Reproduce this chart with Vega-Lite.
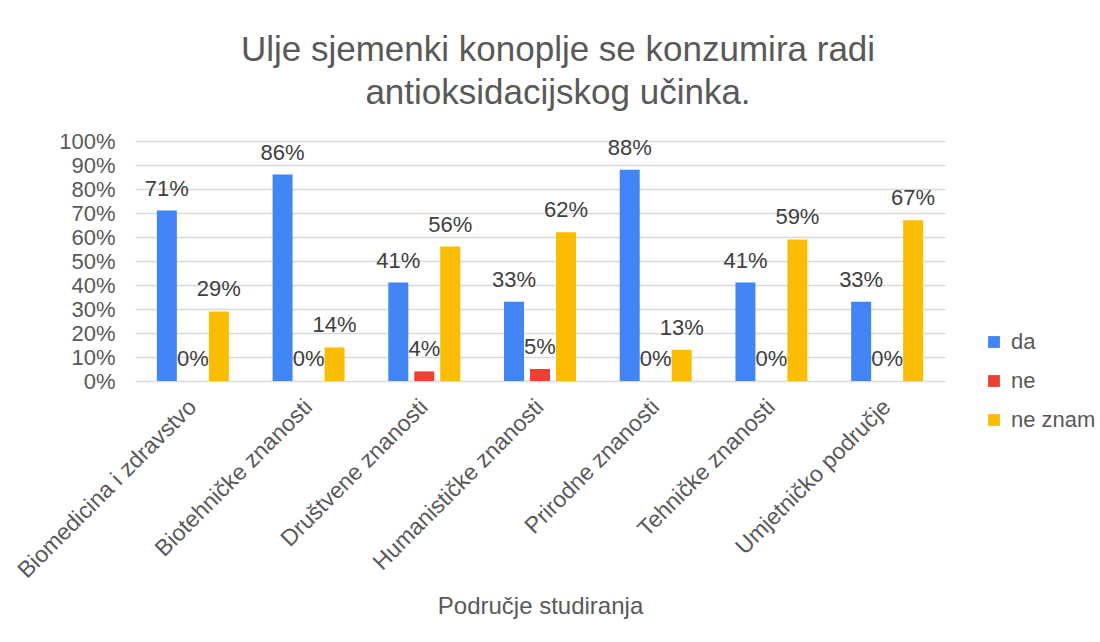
{
  "$schema": "https://vega.github.io/schema/vega-lite/v6.json",
  "width": 810,
  "height": 240,
  "autosize": "none",
  "padding": {"left": 135, "top": 141, "right": 155, "bottom": 261},
  "background": "white",
  "title": {
    "text": ["Ulje sjemenki konoplje se konzumira radi", "antioksidacijskog učinka."],
    "fontSize": 35,
    "fontWeight": "normal",
    "color": "#595959",
    "anchor": "middle",
    "frame": "group",
    "lineHeight": 43,
    "dx": 18,
    "dy": 36,
    "offset": 20,
    "baseline": "bottom"
  },
  "data": {
    "values": [
      {"podrucje": "Biomedicina i zdravstvo", "odgovor": "da", "udio": 0.71},
      {"podrucje": "Biomedicina i zdravstvo", "odgovor": "ne", "udio": 0.0},
      {"podrucje": "Biomedicina i zdravstvo", "odgovor": "ne znam", "udio": 0.29},
      {"podrucje": "Biotehničke znanosti", "odgovor": "da", "udio": 0.86},
      {"podrucje": "Biotehničke znanosti", "odgovor": "ne", "udio": 0.0},
      {"podrucje": "Biotehničke znanosti", "odgovor": "ne znam", "udio": 0.14},
      {"podrucje": "Društvene znanosti", "odgovor": "da", "udio": 0.41},
      {"podrucje": "Društvene znanosti", "odgovor": "ne", "udio": 0.04},
      {"podrucje": "Društvene znanosti", "odgovor": "ne znam", "udio": 0.56},
      {"podrucje": "Humanističke znanosti", "odgovor": "da", "udio": 0.33},
      {"podrucje": "Humanističke znanosti", "odgovor": "ne", "udio": 0.05},
      {"podrucje": "Humanističke znanosti", "odgovor": "ne znam", "udio": 0.62},
      {"podrucje": "Prirodne znanosti", "odgovor": "da", "udio": 0.88},
      {"podrucje": "Prirodne znanosti", "odgovor": "ne", "udio": 0.0},
      {"podrucje": "Prirodne znanosti", "odgovor": "ne znam", "udio": 0.13},
      {"podrucje": "Tehničke znanosti", "odgovor": "da", "udio": 0.41},
      {"podrucje": "Tehničke znanosti", "odgovor": "ne", "udio": 0.0},
      {"podrucje": "Tehničke znanosti", "odgovor": "ne znam", "udio": 0.59},
      {"podrucje": "Umjetničko područje", "odgovor": "da", "udio": 0.33},
      {"podrucje": "Umjetničko područje", "odgovor": "ne", "udio": 0.0},
      {"podrucje": "Umjetničko područje", "odgovor": "ne znam", "udio": 0.67}
    ]
  },
  "encoding": {
    "x": {
      "field": "podrucje",
      "type": "nominal",
      "sort": null,
      "title": "Područje studiranja",
      "scale": {"paddingInner": 0.378, "paddingOuter": 0.189},
      "axis": {
        "labelAngle": -45,
        "labelAlign": "right",
        "labelBaseline": "middle",
        "labelFontSize": 23,
        "labelColor": "#595959",
        "labelPadding": 22,
        "labelLimit": 400,
        "ticks": false,
        "domain": false,
        "grid": false,
        "titleFontSize": 24,
        "titleFontWeight": "normal",
        "titleColor": "#595959",
        "titleBaseline": "alphabetic",
        "titleY": 232
      }
    },
    "xOffset": {
      "field": "odgovor",
      "type": "nominal",
      "sort": ["da", "ne", "ne znam"],
      "scale": {"paddingInner": 0.2308, "paddingOuter": 0}
    },
    "y": {
      "field": "udio",
      "type": "quantitative",
      "title": null,
      "scale": {"domain": [0, 1]},
      "axis": {
        "values": [0, 0.1, 0.2, 0.3, 0.4, 0.5, 0.6, 0.7, 0.8, 0.9, 1],
        "format": ".0%",
        "labelFontSize": 22,
        "labelColor": "#595959",
        "labelPadding": 20,
        "ticks": false,
        "domain": false,
        "grid": true,
        "gridColor": "#d9d9d9",
        "gridWidth": 1.5
      }
    }
  },
  "layer": [
    {
      "mark": {"type": "bar"},
      "encoding": {
        "color": {
          "field": "odgovor",
          "type": "nominal",
          "sort": ["da", "ne", "ne znam"],
          "scale": {"domain": ["da", "ne", "ne znam"], "range": ["#4285F4", "#EA4335", "#FBBC04"]},
          "legend": {
            "orient": "none",
            "legendX": 848,
            "legendY": 190,
            "title": null,
            "labelFontSize": 22,
            "labelColor": "#595959",
            "symbolType": "square",
            "symbolSize": 140,
            "symbolStrokeWidth": 0,
            "rowPadding": 17,
            "labelOffset": 6
          }
        }
      }
    },
    {
      "mark": {"type": "text", "dy": -15, "baseline": "alphabetic", "fontSize": 22, "color": "#404040"},
      "encoding": {
        "text": {"field": "udio", "type": "quantitative", "format": ".0%"}
      }
    }
  ],
  "config": {
    "font": "Liberation Sans",
    "view": {"stroke": null}
  }
}
